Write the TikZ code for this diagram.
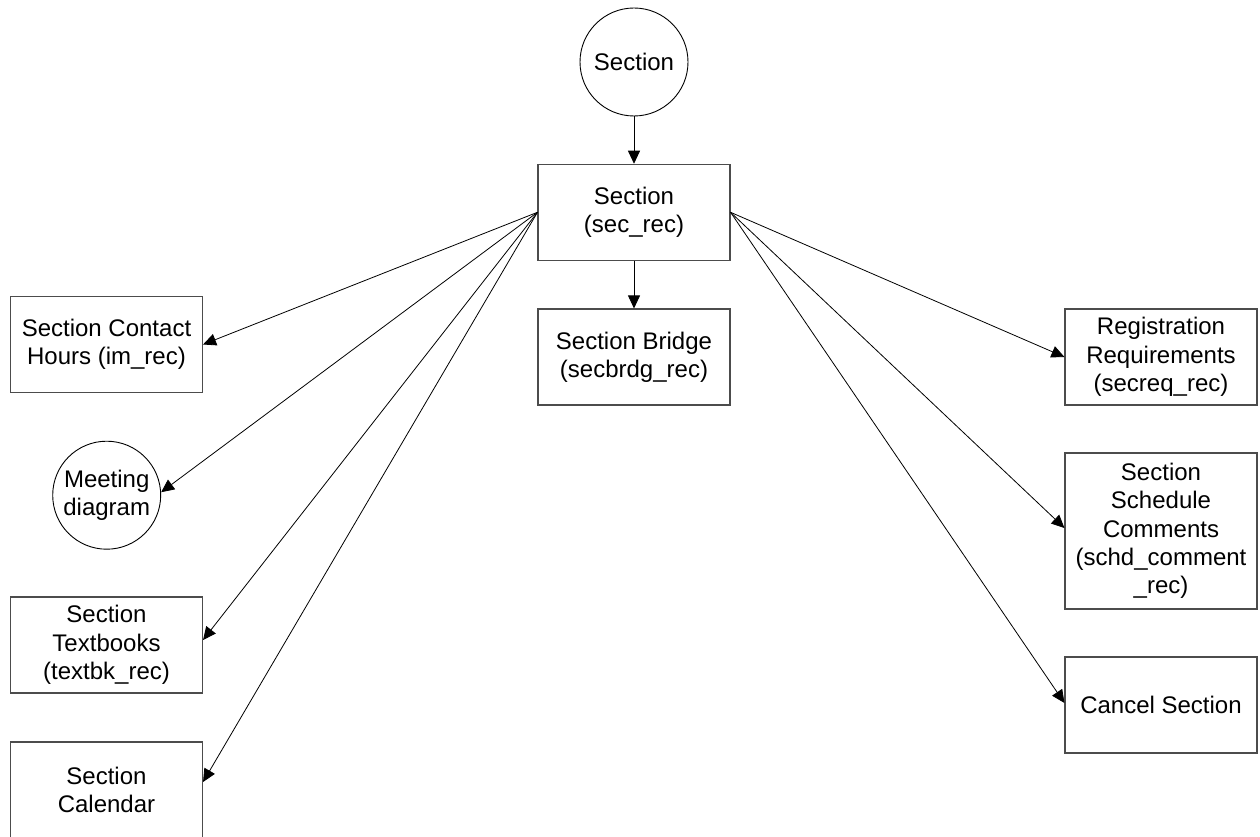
\documentclass[tikz,border=0pt]{standalone}
\usepackage{fontspec}
\setmainfont{Liberation Sans}
\usetikzlibrary{arrows.meta}
\begin{document}
\begin{tikzpicture}[x=1pt,y=-1pt,
  every node/.style={font=\fontsize{24}{28.3}\selectfont, align=center, inner sep=0pt},
  box/.style={draw=black!70, line width=1.1pt, rectangle, minimum width=192pt, minimum height=96pt},
  circ/.style={draw=black, line width=0.9pt, circle, minimum size=108pt},
  conn/.style={draw=black, line width=0.8pt, -{Triangle[length=13pt,width=12pt]}}]
\useasboundingbox (0,0) rectangle (1260,837);
\begin{scope}
\clip (0,0) rectangle (1260,837);
\node[circ] (secc) at (634,62) {Section};
\node[box] (sec) at (634,212.3) {Section\\(sec\_rec)};
\node[box] (bridge) at (634,357) {Section Bridge\\(secbrdg\_rec)};
\node[box] (contact) at (106.5,344.5) {Section Contact\\Hours (im\_rec)};
\node[circ] (meet) at (106.7,495.2) {Meeting\\diagram};
\node[box] (tb) at (106.5,645) {Section\\Textbooks\\(textbk\_rec)};
\node[box] (cal) at (106.5,790) {Section\\Calendar};
\node[box] (reg) at (1161,357) {Registration\\Requirements\\(secreq\_rec)};
\node[box, minimum height=156pt] (sched) at (1161,531) {Section\\Schedule\\Comments\\(schd\_comment\\\_rec)};
\node[box] (cancel) at (1161,705) {Cancel Section};

\draw[conn] (secc.south) -- (sec.north);
\draw[conn] (sec.south) -- (bridge.north);
\draw[conn] (sec.west) -- (contact.east);
\draw[conn] (sec.west) -- ([yshift=3pt]meet.east);
\draw[conn] (sec.west) -- ([yshift=5pt]tb.east);
\draw[conn] (sec.west) -- ([yshift=8pt]cal.east);
\draw[conn] (sec.east) -- (reg.west);
\draw[conn] (sec.east) -- ([yshift=3pt]sched.west);
\draw[conn] (sec.east) -- ([yshift=2pt]cancel.west);
\end{scope}
\end{tikzpicture}
\end{document}
